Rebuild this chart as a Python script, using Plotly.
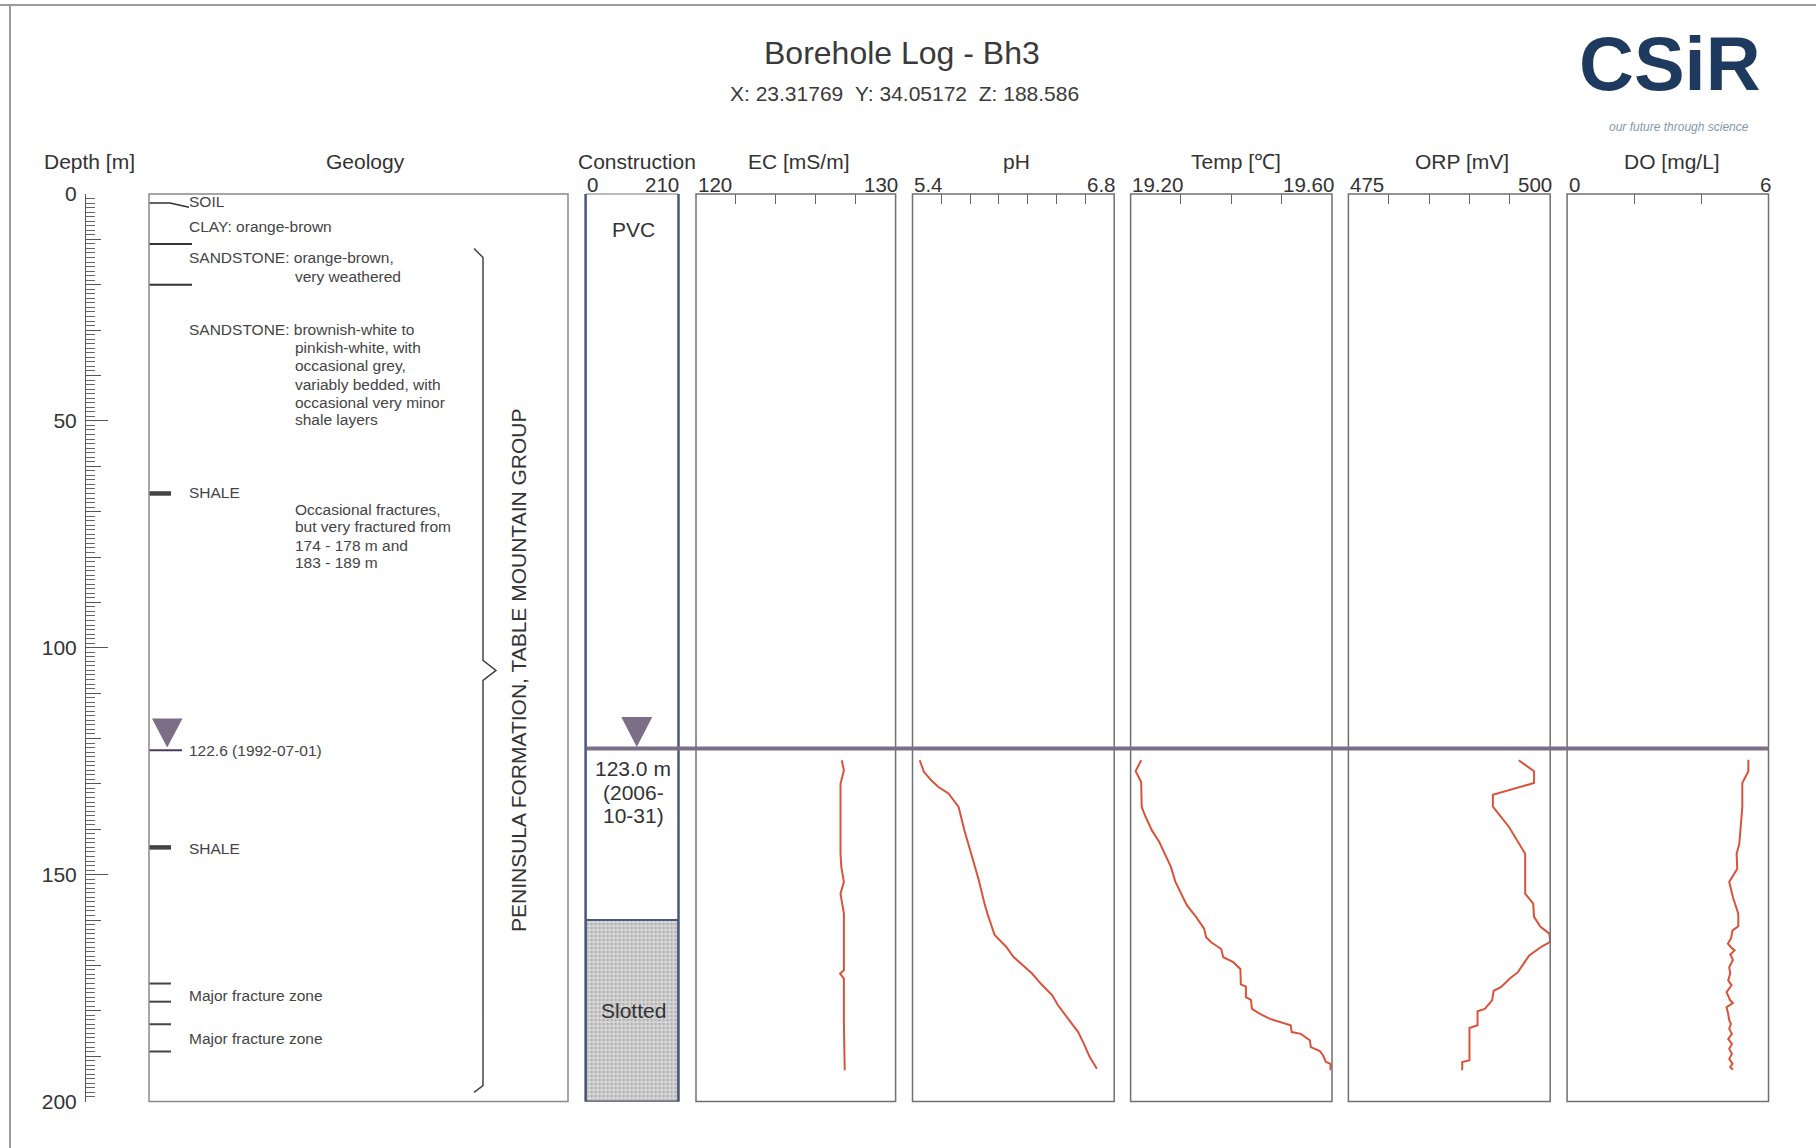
"""Borehole log for Bh3 — geology, construction and downhole profiles."""

import plotly.graph_objects as go

W, H = 1816, 1148
FONT = "Liberation Sans, Arial, Helvetica, sans-serif"
RED = "#d9533b"
WL_COLOR = "#7d6e88"

# ---------------------------------------------------------------- data ----
depth_range = [200, 0]

soil_base = 2
contact_depths = [11, 20]
shale_depths = [66, 144]
fracture_depths = [174, 178, 183, 189]
formation_top, formation_base = 12, 198

wl_1992 = 122.6
wl_2006 = 122.2          # level line as drawn on the log (labelled 123.0 m)
slotted_top, hole_bottom = 160, 200
casing_max = 210

ec_depth = [124.8, 127.0, 130.0, 145.4, 148.3, 151.6, 154.2, 158.6, 171.1,
            171.8, 172.9, 182.8, 193.1]
ec = [127.30, 127.41, 127.24, 127.24, 127.28, 127.41, 127.24, 127.41, 127.41,
      127.22, 127.41, 127.41, 127.45]

ph_depth = [124.8, 127.4, 129.2, 130.7, 132.1, 135.1, 140.2, 146.8, 151.2,
            156.4, 158.6, 163.3, 165.9, 168.1, 170.3, 171.8, 174.0, 176.6,
            178.8, 181.4, 184.7, 187.3, 190.2, 192.8]
ph = [5.45, 5.48, 5.53, 5.58, 5.65, 5.72, 5.76, 5.82, 5.86, 5.90, 5.92, 5.97,
      6.05, 6.10, 6.18, 6.23, 6.29, 6.37, 6.41, 6.47, 6.55, 6.59, 6.63, 6.68]

temp_depth = [124.8, 127.2, 129.6, 135.1, 137.3, 140.2, 142.8, 145.4, 148.3,
              151.6, 154.2, 156.8, 159.3, 161.9, 163.8, 164.9, 166.4, 168.2,
              169.3, 170.8, 174.2, 174.7, 177.0, 177.6, 179.6, 180.7, 181.8,
              182.5, 183.2, 184.7, 185.1, 186.5, 188.0, 188.9, 189.8, 191.3,
              191.7, 193.1]
temp = [19.221, 19.210, 19.221, 19.222, 19.230, 19.242, 19.257, 19.268,
        19.280, 19.289, 19.301, 19.312, 19.330, 19.346, 19.350, 19.360,
        19.380, 19.384, 19.404, 19.418, 19.419, 19.429, 19.429, 19.439,
        19.441, 19.457, 19.477, 19.498, 19.518, 19.520, 19.538, 19.556,
        19.558, 19.576, 19.582, 19.588, 19.597, 19.597]

orp_depth = [124.8, 127.2, 129.8, 132.4, 135.0, 139.5, 145.4, 154.2, 156.4,
             159.3, 161.5, 163.0, 164.8, 165.9, 167.8, 169.3, 171.5, 172.9,
             174.8, 175.6, 177.7, 179.6, 180.1, 183.2, 183.8, 190.9, 191.3,
             193.1]
orp = [496.1, 498.0, 498.0, 492.9, 492.9, 494.9, 496.9, 496.9, 497.9, 498.0,
       498.8, 499.9, 500.0, 498.9, 497.4, 496.8, 496.0, 495.0, 493.9, 493.0,
       492.8, 491.9, 491.0, 491.0, 490.0, 490.0, 489.1, 489.1]

do_depth = [124.7, 127.2, 129.8, 135.1, 143.2, 145.4, 148.7, 151.6, 155.0,
            158.6, 161.4, 162.3, 164.1, 165.2, 166.0, 166.7, 167.6, 168.8,
            170.4, 171.8, 173.3, 174.4, 175.9, 177.7, 178.3, 179.2, 180.7,
            182.1, 182.9, 184.0, 185.1, 186.2, 187.3, 188.4, 189.5, 190.6,
            191.7, 192.4, 193.0]
do = [5.40, 5.40, 5.22, 5.22, 5.13, 5.05, 5.07, 4.83, 4.94, 5.10, 5.10, 4.93,
      4.88, 4.79, 4.88, 4.99, 4.86, 4.94, 4.83, 4.86, 4.80, 4.90, 4.75, 4.86,
      4.94, 4.75, 4.80, 4.83, 4.88, 4.83, 4.91, 4.80, 4.91, 4.83, 4.91, 4.83,
      4.93, 4.86, 4.94]

# (axis, title, range, inner ticks, left label, right label, depth, values)
panels = [
    ("x3", "EC [mS/m]", [120, 130], [122, 124, 126, 128], "120", "130", ec_depth, ec),
    ("x4", "pH", [5.4, 6.8], [5.6, 5.8, 6.0, 6.2, 6.4, 6.6], "5.4", "6.8", ph_depth, ph),
    ("x5", "Temp [℃]", [19.2, 19.6], [19.3, 19.4, 19.5], "19.20", "19.60", temp_depth, temp),
    ("x6", "ORP [mV]", [475, 500], [480, 485, 490, 495], "475", "500", orp_depth, orp),
    ("x7", "DO [mg/L]", [0, 6], [2, 4], "0", "6", do_depth, do),
]

# ------------------------------------------------------------- layout ----
def px(x):
    return x / W


def py(y):
    return 1 - y / H


Y_TOP, Y_BOT = 194.0, 1101.5
M_PER_PX = 200 / (Y_BOT - Y_TOP)
ydom = [py(Y_BOT), py(Y_TOP)]

panel_px = {
    "x": (149, 568),
    "x2": (585.6, 678.5),
    "x3": (696, 895.6),
    "x4": (912.5, 1114.2),
    "x5": (1130.6, 1332),
    "x6": (1348.4, 1550.2),
    "x7": (1567.1, 1768.5),
}
header_x = {"x3": 798.6, "x4": 1016.5, "x5": 1236, "x6": 1462, "x7": 1672}

fig = go.Figure()


def line(x, y, width, color, axis="x"):
    fig.add_trace(go.Scatter(x=x, y=y, xaxis=axis, yaxis="y", mode="lines",
                             line=dict(width=width, color=color),
                             hoverinfo="skip", showlegend=False))


# geology column (x units = pixels from the box's left edge)
line([0, 21, 40], [soil_base, soil_base, soil_base + 0.9], 1.5, "#333")
for d in contact_depths:
    line([0, 43], [d, d], 2, "#333")
for d in shale_depths:
    line([0, 22], [d, d], 4.5, "#444")
for d in fracture_depths:
    line([0, 22], [d, d], 2, "#444")

# formation brace
mid = (formation_top + formation_base) / 2
line([325, 334, 334, 347, 334, 334, 325],
     [formation_top, formation_top + 2, mid - 2.2, mid, mid + 2.2,
      formation_base - 1.5, formation_base], 1.5, "#444")

# 1992 water level in geology column
line([0, 33], [wl_1992, wl_1992], 2, "#4d3d5e")
tri_h = 29 * M_PER_PX
apex = wl_1992 - 0.6
fig.add_trace(go.Scatter(x=[3, 33.5, 18.2, 3], y=[apex - tri_h, apex - tri_h, apex, apex - tri_h],
                         xaxis="x", yaxis="y", mode="lines", fill="toself",
                         fillcolor=WL_COLOR, line=dict(width=0, color=WL_COLOR),
                         hoverinfo="skip", showlegend=False))

# construction: slotted section
fig.add_trace(go.Bar(x=[casing_max / 2], y=[hole_bottom - slotted_top], base=[slotted_top],
                     width=[casing_max], xaxis="x2", yaxis="y",
                     marker=dict(color="#d4d4d4",
                                 line=dict(color="#4b5779", width=2),
                                 pattern=dict(shape=".", fgcolor="#8c8c8c",
                                              bgcolor="#d9d9d9", size=4, solidity=0.45)),
                     hoverinfo="skip", showlegend=False))

# 2006 water level triangle in construction column
cu_per_px = casing_max / (panel_px["x2"][1] - panel_px["x2"][0])
apex2 = wl_2006 - 0.35
tri_h2 = 30 * M_PER_PX
cx, hw = 115.7, 15.5 * cu_per_px
fig.add_trace(go.Scatter(x=[cx - hw, cx + hw, cx, cx - hw],
                         y=[apex2 - tri_h2, apex2 - tri_h2, apex2, apex2 - tri_h2],
                         xaxis="x2", yaxis="y", mode="lines", fill="toself",
                         fillcolor=WL_COLOR, line=dict(width=0, color=WL_COLOR),
                         hoverinfo="skip", showlegend=False))

# profiles
for ax, _, _, _, _, _, dep, val in panels:
    line(val, dep, 2, RED, axis=ax)

# dummy trace so the 10 m tick axis is drawn
fig.add_trace(go.Scatter(x=[0], y=[0], xaxis="x", yaxis="y2", mode="markers",
                         marker=dict(opacity=0), hoverinfo="skip", showlegend=False))

shapes = []
shapes.append(dict(type="line", xref="paper", yref="paper", x0=0, x1=1,
                   y0=py(5), y1=py(5), line=dict(color="#9a9a9a", width=2)))
shapes.append(dict(type="line", xref="paper", yref="paper", x0=px(10), x1=px(10),
                   y0=0, y1=py(5), line=dict(color="#9a9a9a", width=2)))
shapes.append(dict(type="rect", xref="x domain", yref="y domain", x0=0, x1=1, y0=0, y1=1,
                   line=dict(color="#8a8a8a", width=1.5)))
shapes.append(dict(type="rect", xref="x2 domain", yref="y domain", x0=0, x1=1, y0=0, y1=1,
                   line=dict(color="#777", width=1)))
for xv in (0, 1):
    shapes.append(dict(type="line", xref="x2 domain", yref="y domain", x0=xv, x1=xv,
                       y0=0, y1=1, line=dict(color="#4b5779", width=2.5)))
for ax, *_ in panels:
    shapes.append(dict(type="rect", xref=f"{ax} domain", yref="y domain",
                       x0=0, x1=1, y0=0, y1=1, line=dict(color="#707070", width=1.5)))
# 2006 water level across construction and profiles
shapes.append(dict(type="line", xref="paper", yref="y", x0=px(587), x1=px(1769),
                   y0=wl_2006, y1=wl_2006, line=dict(color=WL_COLOR, width=4)))

annotations = []


def note(text, x, y, size=15.5, xanchor="left", color="#444", yref="paper", **kw):
    annotations.append(dict(text=text, x=px(x), y=py(y) if yref == "paper" else y,
                            xref="paper", yref=yref, showarrow=False,
                            xanchor=xanchor, yanchor="middle",
                            font=dict(size=size, color=color, family=FONT), **kw))


note("Borehole Log - Bh3", 902, 53, size=32, xanchor="center", color="#3a3a3a")
note("X: 23.31769\u00a0\u00a0Y: 34.05172\u00a0\u00a0Z: 188.586", 904, 94, size=21,
     xanchor="center", color="#3a3a3a")
note("<b>CSiR</b>", 1670, 64, size=76, xanchor="center", color="#1f3a5f")
note("<i>our future through science</i>", 1679, 127, size=12, xanchor="center",
     color="#8796ad")

for text, x in [("Depth [m]", 89.4), ("Geology", 365), ("Construction", 637)]:
    note(text, x, 161.5, size=21, xanchor="center", color="#333")
for ax, title, *_ in panels:
    note(title, header_x[ax], 161.5, size=21, xanchor="center", color="#333")

note("0", panel_px["x2"][0] - 1, 184, size=20.5, color="#333")
note("210", panel_px["x2"][1] + 2, 184, size=20.5, xanchor="right", color="#333")
for ax, _, _, _, lo, hi, _, _ in panels:
    note(lo, panel_px[ax][0] - 0.5, 184, size=20.5, color="#333")
    note(hi, panel_px[ax][1] + 4, 184, size=20.5, xanchor="right", color="#333")

geo_labels = [
    ("SOIL", 187, 201.7), ("CLAY: orange-brown", 187, 226),
    ("SANDSTONE: orange-brown,", 187, 257.7), ("very weathered", 293, 276),
    ("SANDSTONE: brownish-white to", 187, 330), ("pinkish-white, with", 293, 347.7),
    ("occasional grey,", 293, 366), ("variably bedded, with", 293, 384),
    ("occasional very minor", 293, 402), ("shale layers", 293, 419.3),
    ("SHALE", 187, 492.7), ("Occasional fractures,", 293, 509.3),
    ("but very fractured from", 293, 526.7), ("174 - 178 m and", 293, 545),
    ("183 - 189 m", 293, 562.7), ("SHALE", 187, 848.7),
    ("Major fracture zone", 187, 995), ("Major fracture zone", 187, 1038.7),
]
for text, x, y in geo_labels:
    note(text, x, y)
note(f"{wl_1992} (1992-07-01)", 187, wl_1992 + 0.1, yref="y")
note("PENINSULA FORMATION, TABLE MOUNTAIN GROUP", 518.6, mid, size=21,
     xanchor="center", color="#333", yref="y", textangle=-90)

note("PVC", 633, 229.3, size=21, xanchor="center", color="#333")
note("123.0 m", 633, 768.3, size=21, xanchor="center", color="#333")
note("(2006-", 633, 792.7, size=21, xanchor="center", color="#333")
note("10-31)", 633, 815, size=21, xanchor="center", color="#333")
note("Slotted", 633, 1010, size=21, xanchor="center", color="#333")


def xaxis(key, rng, tickvals=None):
    lo, hi = panel_px[key]
    return dict(domain=[px(lo), px(hi)], range=rng, anchor="y", side="top",
                ticks="inside" if tickvals else "", ticklen=10, tickwidth=1,
                tickcolor="#666", tickvals=tickvals or [], showticklabels=False,
                showgrid=False, zeroline=False, showline=False, fixedrange=True)


layout_axes = {
    "xaxis": xaxis("x", [0, panel_px["x"][1] - panel_px["x"][0]]),
    "xaxis2": xaxis("x2", [0, casing_max]),
}
for i, (ax, _, rng, ticks, *_rest) in enumerate(panels, start=3):
    layout_axes[f"xaxis{i}"] = xaxis(ax, rng, ticks)

fig.update_layout(
    **layout_axes,
    yaxis=dict(domain=ydom, range=depth_range, anchor="free", position=px(85),
               side="left", showline=True, linecolor="#555", linewidth=1,
               ticks="inside", ticklen=22, tickwidth=1, tickcolor="#555",
               tickmode="linear", tick0=0, dtick=50, ticklabelstandoff=4,
               tickfont=dict(size=21, color="#333", family=FONT),
               minor=dict(ticks="inside", ticklen=9, tick0=0, dtick=1,
                          tickcolor="#666", tickwidth=1, showgrid=False),
               showgrid=False, zeroline=False, fixedrange=True),
    yaxis2=dict(domain=ydom, range=depth_range, overlaying="y", anchor="free",
                position=px(85), side="left", ticks="inside", ticklen=15,
                tickwidth=1, tickcolor="#555", tickmode="linear", tick0=0, dtick=10,
                showticklabels=False, showline=False, showgrid=False,
                zeroline=False, fixedrange=True),
    shapes=shapes,
    annotations=annotations,
    width=W,
    height=H,
    margin=dict(l=0, r=0, t=0, b=0, autoexpand=False),
    paper_bgcolor="white",
    plot_bgcolor="white",
    showlegend=False,
    font=dict(family=FONT, color="#333"),
)

# the page's default body margin would shift the whole log
fig.write_html("out.html", config={"displayModeBar": False},
               post_script="document.body.style.margin='0';"
                           "document.body.style.overflow='hidden';")
